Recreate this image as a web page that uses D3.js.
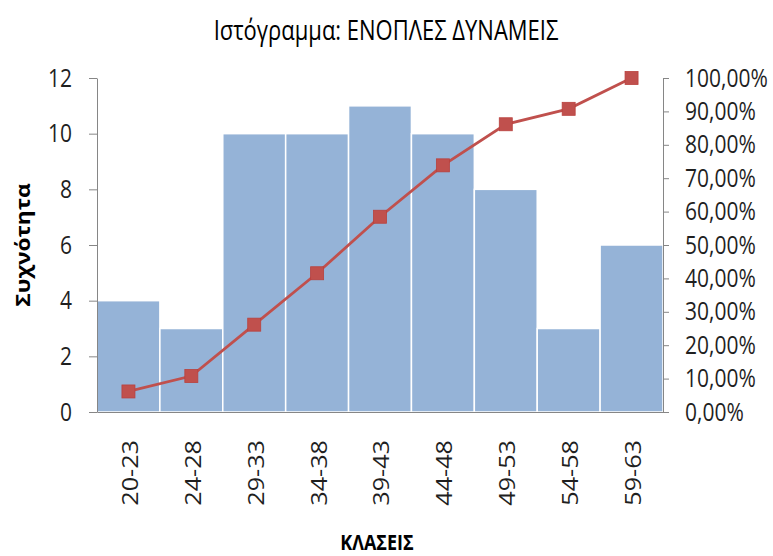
<!DOCTYPE html>
<html>
<head>
<meta charset="utf-8">
<script src="https://cdn.jsdelivr.net/npm/d3@7"></script>
<style>
	html, body { margin: 0; padding: 0; background: #fff; }
	svg { display: block; font-family: "Open Sans", "Noto Sans", sans-serif; }
</style>
</head>
<body>
<svg id="chart" width="773" height="556"></svg>
<script>

// data
var classes = ["20-23", "24-28", "29-33", "34-38", "39-43", "44-48", "49-53", "54-58", "59-63"];
var freq = [4, 3, 10, 10, 11, 10, 8, 3, 6];
var cumul = [0.0615, 0.1077, 0.2615, 0.4154, 0.5846, 0.7385, 0.8615, 0.9077, 1.0];
var leftTicks = [0, 2, 4, 6, 8, 10, 12];
var rightTicks = [0, 0.1, 0.2, 0.3, 0.4, 0.5, 0.6, 0.7, 0.8, 0.9, 1.0];

var SY = 1.2;		// the picture text is stretched vertically

const margin = { top: 78, right: 110, bottom: 144, left: 97 },
	width = 773 - margin.left - margin.right,
	height = 556 - margin.top - margin.bottom;

var svg = d3.select("#chart");
var g = svg.append("g")
	.attr("transform", `translate(${margin.left},${margin.top})`);

var x = d3.scaleBand(classes, [0, width]).padding(0);
var yl = d3.scaleLinear([0, 12], [height, 0]);
var yr = d3.scaleLinear([0, 1], [height, 0]);

var loc = d3.formatLocale({ decimal: ",", thousands: ".", grouping: [3], currency: ["", "€"] });
var pct = loc.format(".2%");

// bars
g.selectAll(".bar")
	.data(freq)
	.join("rect")
	.attr("class", "bar")
	.attr("x", (d, i) => x(classes[i]))
	.attr("y", d => yl(d))
	.attr("width", x.bandwidth())
	.attr("height", d => height - yl(d))
	.attr("fill", "#95b3d7")
	.attr("stroke", "#fff")
	.attr("stroke-width", 1.5);

// axes
var axcol = "#868686";

var left = g.append("g")
	.call(d3.axisLeft(yl).tickValues(leftTicks).tickSize(8).tickSizeOuter(0).tickPadding(17));
var right = g.append("g")
	.attr("transform", `translate(${width},0)`)
	.call(d3.axisRight(yr).tickValues(rightTicks).tickFormat(pct).tickSize(6).tickSizeOuter(0).tickPadding(16));
var bottom = g.append("g")
	.attr("transform", `translate(0,${height})`)
	.call(d3.axisBottom(x).tickSize(0).tickSizeOuter(0));

[left, right, bottom].forEach(a => {
	a.attr("font-family", null).attr("font-size", 21);
	a.select(".domain").attr("stroke", axcol);
	a.selectAll(".tick line").attr("stroke", axcol);
	a.selectAll("text").attr("fill", "#1f1f1f");
});

left.selectAll("text").attr("transform", `scale(1,${SY})`);
right.selectAll("text").attr("transform", `scale(1,${SY})`);

bottom.selectAll("text")
	.attr("x", 0)
	.attr("y", 0)
	.attr("dy", "0.45em")
	.attr("text-anchor", "end")
	.attr("transform", `translate(0,28) scale(1,${SY}) rotate(-90)`);

// cumulative line
var cx = (d, i) => x(classes[i]) + x.bandwidth() / 2;

g.append("path")
	.datum(cumul)
	.attr("fill", "none")
	.attr("stroke", "#c0504d")
	.attr("stroke-width", 2.8)
	.attr("d", d3.line(cx, d => yr(d)));

var ms = 13;
g.selectAll(".mark")
	.data(cumul)
	.join("rect")
	.attr("class", "mark")
	.attr("x", (d, i) => cx(d, i) - ms / 2)
	.attr("y", d => yr(d) - ms / 2)
	.attr("width", ms)
	.attr("height", ms)
	.attr("fill", "#c0504d")
	.attr("stroke", "#b9413e")
	.attr("stroke-width", 0.8);

// titles
svg.append("text")
	.attr("transform", `translate(386,40) scale(1,${SY})`)
	.attr("text-anchor", "middle")
	.attr("font-size", 22)
	.attr("fill", "#000")
	.text("Ιστόγραμμα: ΕΝΟΠΛΕΣ ΔΥΝΑΜΕΙΣ");

svg.append("text")
	.attr("transform", `translate(30,245) scale(1,${SY}) rotate(-90)`)
	.attr("text-anchor", "middle")
	.attr("font-size", 19)
	.attr("font-weight", "bold")
	.attr("fill", "#000")
	.text("Συχνότητα");

svg.append("text")
	.attr("transform", `translate(377,550) scale(1,${SY})`)
	.attr("text-anchor", "middle")
	.attr("font-size", 18)
	.attr("font-weight", "bold")
	.attr("fill", "#000")
	.text("ΚΛΑΣΕΙΣ");

</script>
</body>
</html>
